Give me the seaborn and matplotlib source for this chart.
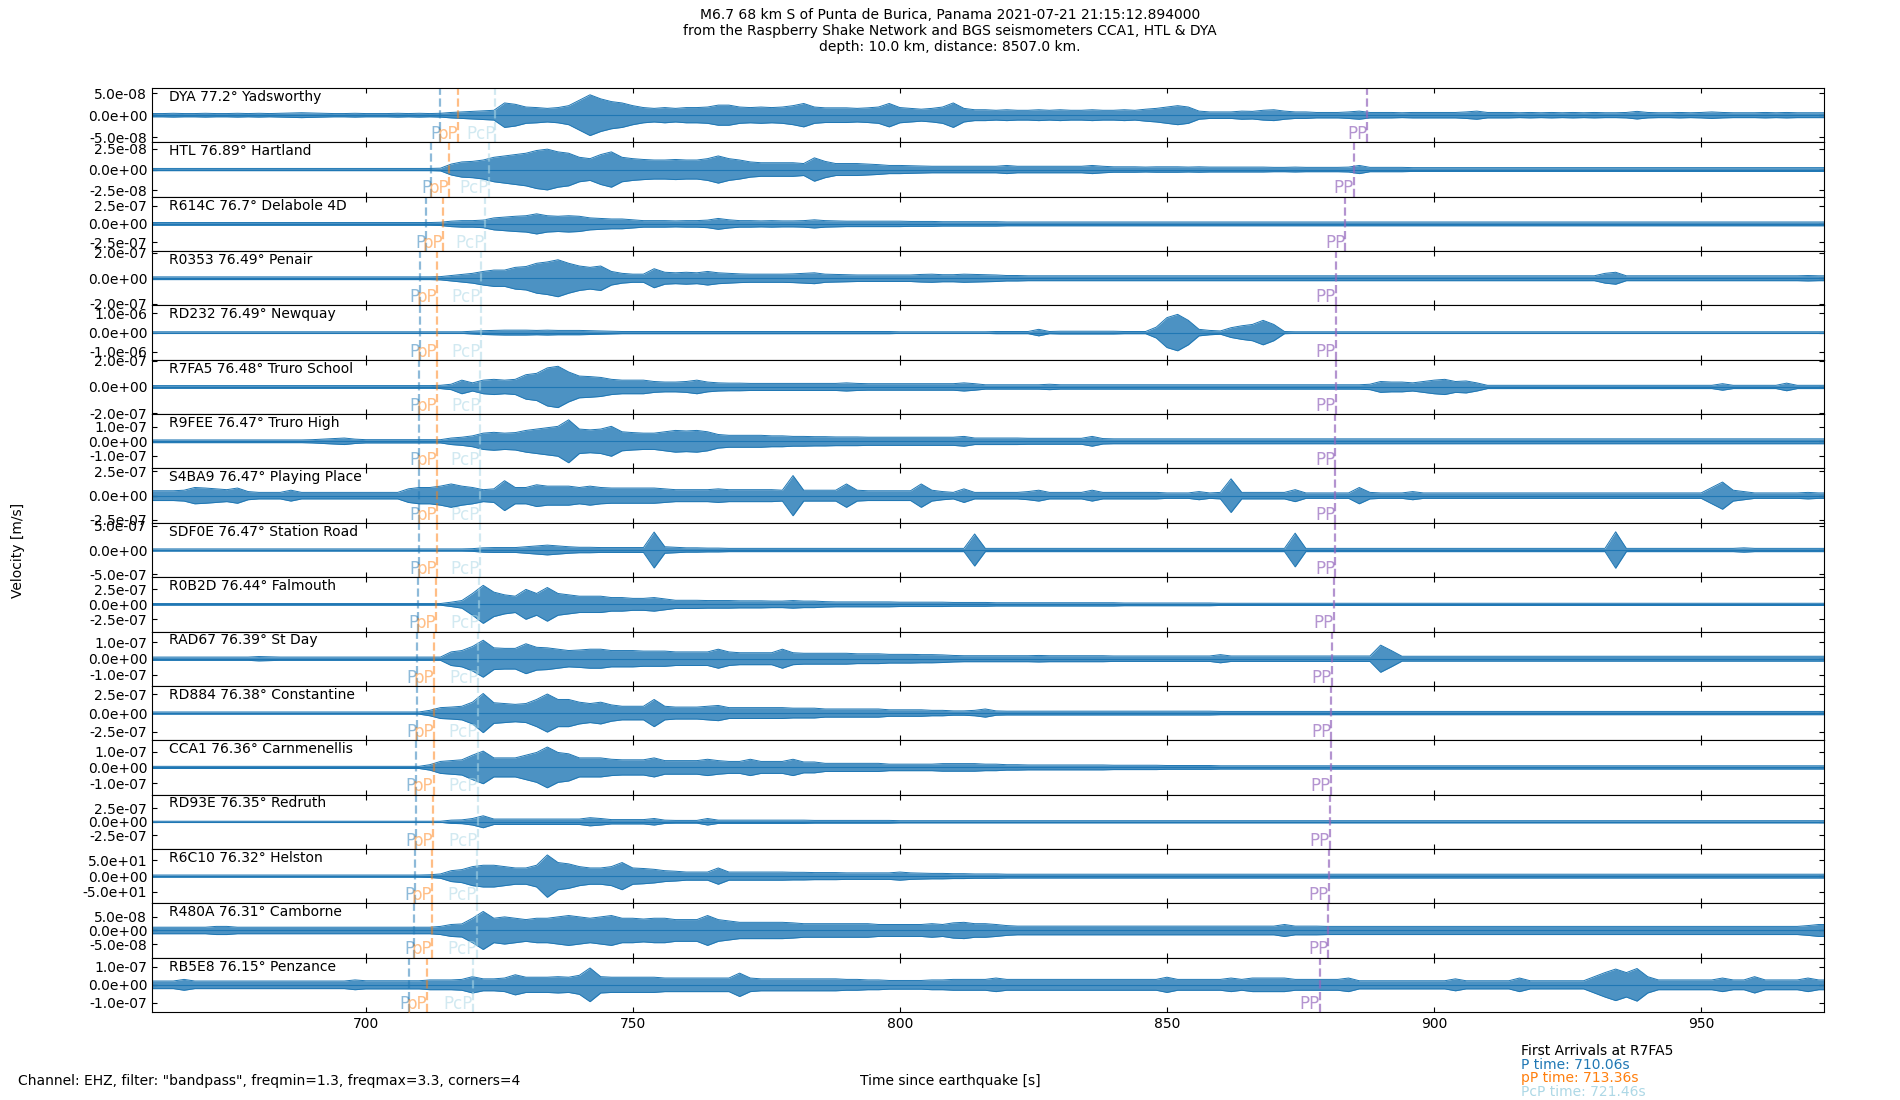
import numpy as np
import pandas as pd
import matplotlib
matplotlib.use("Agg")
import matplotlib.pyplot as plt
import matplotlib.transforms as mtransforms
from matplotlib.ticker import FormatStrFormatter
import seaborn as sns

# ---------------- data ----------------
stations = ["DYA", "HTL", "R614C", "R0353", "RD232", "R7FA5", "R9FEE", "S4BA9", "SDF0E",
            "R0B2D", "RAD67", "RD884", "CCA1", "RD93E", "R6C10", "R480A", "RB5E8"]
distances = [77.2, 76.89, 76.7, 76.49, 76.49, 76.48, 76.47, 76.47, 76.47,
             76.44, 76.39, 76.38, 76.36, 76.35, 76.32, 76.31, 76.15]
places = ["Yadsworthy", "Hartland", "Delabole 4D", "Penair", "Newquay", "Truro School",
          "Truro High", "Playing Place", "Station Road", "Falmouth", "St Day", "Constantine",
          "Carnmenellis", "Redruth", "Helston", "Camborne", "Penzance"]
tick_values = [5e-8, 2.5e-8, 2.5e-7, 2e-7, 1e-6, 2e-7, 1e-7, 2.5e-7, 5e-7,
               2.5e-7, 1e-7, 2.5e-7, 1e-7, 2.5e-7, 50.0, 5e-8, 1e-7]
# half range of each panel's velocity axis [m/s]
ylim_half = [6.2e-8, 3.28e-8, 3.7e-7, 2.12e-7, 1.40e-6, 2.08e-7, 1.85e-7, 2.8e-7, 5.65e-7,
             4.5e-7, 1.67e-7, 3.63e-7, 1.73e-7, 5.1e-7, 86.5, 9.8e-8, 1.5e-7]

# phase arrival times [s since origin]
P_times = [713.95, 712.27, 711.25, 710.11, 710.11, 710.06, 710.01, 710.01, 710.01,
           709.84, 709.57, 709.52, 709.41, 709.36, 709.20, 709.14, 708.15]
pP_times = [717.25, 715.57, 714.55, 713.41, 713.41, 713.36, 713.31, 713.31, 713.31,
            713.14, 712.87, 712.82, 712.71, 712.66, 712.50, 712.44, 711.50]
PcP_times = [724.27, 723.06, 722.32, 721.50, 721.50, 721.46, 721.42, 721.42, 721.42,
             721.30, 721.11, 721.07, 720.99, 720.95, 720.84, 720.80, 720.00]
PP_times = [887.5, 884.96, 883.4, 881.6, 881.6, 881.6, 881.52, 881.52, 881.52,
            881.2, 880.86, 880.78, 880.62, 880.53, 880.29, 880.21, 878.6]

# amplitude envelopes, sampled every 2 s from 660 s to 974 s,
# in percent of each panel's half range (ylim_half)
t_start = 660.0
t_step = 2.0
env_DYA = [6,6,7,6,6,7,6,6,7,6, 7,6,7,8,9,8,7,6,6,7, 6,6,6,7,6,7,6,7,10,12,
           14,16,18,45,40,30,28,25,28,35, 55,75,60,50,45,35,28,25,28,25,
           28,28,30,37,37,30,28,30,28,30, 35,43,30,27,27,27,25,27,30,43,
           28,25,22,25,30,45,25,20,20,18, 20,18,18,20,18,20,18,18,20,18,
           18,20,18,22,25,30,35,30,15,12, 12,12,15,14,18,20,15,12,12,10,
           10,10,12,15,10,10,10,9,10,10, 10,10,10,12,15,10,10,10,9,10,
           9,10,9,10,9,10,9,9,10,14, 10,9,9,10,9,10,12,10,9,9, 9,10,9,10,9,9,9,9]
env_HTL = [4,4,4,4,4,4,4,4,4,4, 4,4,4,4,4,4,4,4,4,4, 4,4,4,4,4,4,4,5,20,28,
           30,35,45,50,55,60,70,75,65,60, 45,40,55,65,45,40,37,35,35,37,
           35,35,40,50,40,35,28,25,25,25, 25,22,43,30,22,22,22,20,18,15,
           15,14,13,12,12,12,12,12,12,12, 15,12,12,12,12,12,12,12,15,12,
           10,10,10,9,10,10,10,9,10,9, 9,9,9,9,9,8,8,9,8,8,
           8,8,9,15,8,8,8,8,7,7, 7,7,7,7,7,7,7,7,7,7,
           7,7,7,7,7,7,7,7,7,7, 7,7,7,7,7,7,7,7,7,7, 7,7,7,7,7,7,7,7]
env_R614C = [5,5,5,5,5,5,5,5,5,5, 5,5,5,5,5,5,5,5,5,5, 5,5,5,5,5,5,5,6,10,12,
             12,14,22,25,28,30,37,30,28,30, 28,22,20,18,18,15,12,12,12,11,
             12,12,14,20,15,12,12,11,12,11, 11,12,15,12,11,10,10,10,10,10,
             10,9,9,9,8,8,8,8,8,8, 7,7,7,7,7,7,7,7,7,7,
             7,7,7,7,7,7,7,7,7,7, 7,7,7,7,7,7,7,7,7,7,
             7,7,7,7,7,7,7,7,7,7, 7,7,7,7,7,7,7,7,7,7,
             7,7,7,7,7,7,7,7,7,7, 7,7,7,7,7,7,7,7,7,7, 7,7,7,7,7,7,7,7]
env_R0353 = [5,5,5,5,5,5,5,5,5,5, 5,5,5,5,5,5,5,5,5,5, 5,5,5,5,5,5,5,6,10,14,
             18,25,30,30,40,43,55,60,68,55, 45,40,45,25,18,15,15,35,22,20,
             22,20,25,20,18,16,15,15,15,15, 16,18,20,15,14,13,12,12,12,12,
             12,12,14,15,13,13,15,14,13,12, 10,10,9,9,9,9,9,9,9,9,
             9,9,9,9,9,9,9,9,9,9, 9,9,9,9,9,9,9,9,9,9,
             9,9,9,9,9,9,9,9,9,9, 9,9,9,9,9,9,9,9,9,9,
             9,9,9,9,9,9,18,22,9,9, 9,9,9,9,9,9,9,9,9,9, 9,9,9,9,9,10,9,9]
env_RD232 = [3,3,3,3,3,3,3,3,3,3, 3,3,3,3,3,3,3,3,3,3, 3,3,3,3,3,3,3,3,3,3,
             5,7,8,9,9,9,8,9,8,8, 8,7,6,5,4,4,4,4,4,4,
             4,4,4,4,4,4,4,4,4,4, 4,4,4,4,4,4,4,4,4,4,
             3,3,3,3,3,3,3,3,3,4, 4,4,4,12,4,5,5,5,5,5,
             5,4,4,4,20,55,67,45,12,8, 6,18,25,30,45,30,4,3,3,3,
             3,3,3,3,3,3,3,3,3,3, 3,3,3,3,3,3,3,3,3,3,
             3,3,3,3,3,3,3,3,3,3, 3,3,3,3,3,3,3,3,3,3, 3,3,3,3,3,3,3,3]
env_R7FA5 = [5,5,5,5,5,5,5,5,5,5, 5,5,5,5,5,5,5,5,5,5, 5,5,5,5,5,5,5,6,10,25,
             15,25,28,25,28,45,50,70,76,55, 40,38,35,28,25,25,25,20,18,18,
             20,25,18,15,14,14,13,13,13,13, 13,13,13,13,13,15,13,12,12,12,
             12,12,12,12,12,12,15,12,8,8, 8,8,8,8,10,8,8,8,8,8,
             8,8,8,8,8,8,8,8,8,8, 8,8,8,8,8,8,8,8,8,8,
             8,8,8,8,10,20,18,18,15,20, 25,28,20,22,15,6,6,6,6,6,
             6,6,6,6,6,6,6,6,6,6, 6,6,6,6,6,6,6,12,6,6, 6,6,6,14,6,6,6,6]
env_R9FEE = [5,5,5,5,5,5,5,5,5,5, 5,5,5,5,5,6,8,10,12,8, 6,6,6,6,6,6,6,6,12,15,
             20,30,33,30,32,40,45,50,55,79, 45,42,45,55,35,32,30,30,35,40,
             38,40,35,25,22,22,22,22,20,20, 18,18,17,17,16,16,16,15,15,15,
             15,15,15,15,15,15,18,12,12,12, 12,12,11,11,11,11,11,11,18,10,
             9,9,9,9,9,9,9,9,9,9, 9,9,9,9,9,9,9,9,9,9,
             9,9,9,9,9,9,9,9,9,9, 9,9,9,9,9,9,9,9,9,9,
             9,9,9,9,9,9,9,9,9,9, 9,9,9,9,9,9,9,9,9,9, 9,9,9,9,9,9,9,9]
env_S4BA9 = [18,18,18,20,30,28,25,22,28,15, 12,12,12,20,12,12,12,12,12,12,
             12,12,12,12,25,30,30,35,43,35, 30,22,25,55,30,30,40,35,35,35,
             30,35,30,28,28,28,28,28,25,22, 22,22,22,25,22,22,22,22,22,20,
             74,20,20,20,20,43,20,18,18,18, 18,18,43,20,15,12,25,12,12,12,
             12,12,15,20,12,12,12,12,20,12, 12,12,12,12,12,10,10,10,15,10,
             12,62,12,12,12,12,12,22,10,10, 10,10,10,30,12,10,10,10,15,10,
             10,10,10,10,10,10,10,10,10,10, 10,10,10,10,10,10,10,10,10,10,
             10,10,10,10,10,10,30,50,20,15, 10,10,10,10,10,12,10,10]
env_SDF0E = [4,4,4,4,4,4,4,4,4,4, 4,4,4,4,4,4,4,4,4,4, 4,4,4,4,4,4,4,4,4,4,
             5,8,9,9,9,12,15,18,15,12, 10,10,9,9,9,9,9,66,12,10,
             8,8,7,7,6,6,6,6,6,6, 6,6,6,6,6,6,6,6,6,6,
             6,6,6,6,6,6,6,59,6,6, 6,6,6,6,6,6,6,6,6,6,
             6,6,6,6,6,6,6,6,6,6, 6,6,6,6,6,6,6,62,6,6,
             6,6,6,6,6,6,6,6,6,6, 6,6,6,6,6,6,6,6,6,6,
             6,6,6,6,6,6,6,67,6,6, 6,6,6,6,6,6,6,6,6,8, 6,6,6,6,6,6,6,6]
env_R0B2D = [3,3,3,3,3,3,3,3,3,3, 3,3,3,3,3,3,3,3,3,3, 3,3,3,3,3,3,3,3,8,14,
             40,70,45,35,30,55,40,62,40,35, 30,30,30,25,25,22,22,25,20,15,
             15,15,14,14,14,13,13,13,12,12, 14,12,12,10,9,9,9,9,9,9,
             8,8,8,8,8,7,7,7,7,6, 6,6,6,6,6,6,6,6,6,6,
             6,5,5,5,5,5,5,5,5,5, 4,4,4,4,4,4,4,4,4,4,
             4,4,4,4,4,4,4,4,4,4, 4,4,4,4,4,4,4,4,4,4,
             4,4,4,4,4,4,4,4,4,4, 4,4,4,4,4,4,4,4,4,4, 4,4,4,4,4,4,4,4]
env_RAD67 = [6,6,6,6,6,6,6,6,6,6, 8,7,6,6,6,6,6,6,6,6, 6,6,6,6,6,6,6,6,25,30,
             45,68,40,38,38,55,42,40,35,30, 32,35,35,30,30,30,28,28,28,25,
             25,25,25,35,25,22,22,22,22,35, 22,20,20,20,20,20,18,18,18,16,
             16,16,15,15,14,12,11,11,11,11, 11,11,11,12,11,11,11,11,11,11,
             10,10,10,10,10,10,10,10,10,10, 15,10,10,10,10,10,10,10,10,10,
             10,10,10,10,10,50,30,9,9,9, 9,9,9,9,9,9,9,9,9,9,
             9,9,9,9,9,9,9,9,9,9, 9,9,9,9,9,9,9,9,9,9, 9,9,9,9,9,9,9,9]
env_RD884 = [4,4,4,4,4,4,4,4,4,4, 4,4,4,4,4,4,4,4,4,4, 4,4,4,4,4,4,10,20,22,25,
             40,72,38,35,32,35,50,70,50,50, 40,35,40,30,25,25,25,50,25,22,
             22,22,25,28,20,20,20,20,20,20, 18,18,18,15,15,15,15,15,15,12,
             12,12,12,10,10,8,8,10,15,8, 7,7,7,7,7,7,7,7,7,7,
             7,7,7,7,7,7,7,7,7,7, 6,6,6,6,6,6,6,6,6,6,
             6,6,6,6,6,6,6,6,6,6, 6,6,6,6,6,6,6,6,6,6,
             6,6,6,6,6,6,6,6,6,6, 6,6,6,6,6,6,6,6,6,6, 6,6,6,6,6,6,6,6]
env_CCA1 = [4,4,4,4,4,4,4,4,4,4, 4,4,4,4,4,4,4,4,4,4, 4,4,4,4,4,4,10,22,25,28,
            45,60,35,35,35,45,55,75,55,50, 35,35,35,30,28,28,28,35,25,25,
            25,25,30,25,22,22,30,22,22,22, 30,20,20,15,15,15,15,15,15,12,
            12,12,12,12,14,14,14,14,12,12, 10,10,9,9,9,9,9,9,9,9,
            8,8,8,8,8,7,7,7,7,7, 6,6,6,6,6,6,6,6,6,6,
            6,6,6,6,6,6,6,6,6,6, 6,6,6,6,6,6,6,6,6,6,
            6,6,6,6,6,6,6,6,6,6, 6,6,6,6,6,6,6,6,6,6, 6,6,6,6,6,6,6,6]
env_RD93E = [2,2,2,2,2,2,2,2,2,2, 2,2,2,2,2,2,2,2,2,2, 2,2,2,2,2,2,2,2,6,7,
             12,22,10,10,10,10,10,10,10,10, 10,15,12,8,8,8,8,12,6,5,
             5,5,12,6,6,6,6,6,6,6, 6,6,5,5,5,5,5,5,5,5,
             4,4,4,4,4,4,4,4,4,4, 4,4,4,4,4,4,4,4,4,4,
             4,4,4,4,4,4,4,4,4,4, 4,4,4,4,4,4,4,4,4,4,
             4,4,4,4,4,4,4,4,4,4, 4,4,4,4,4,4,4,4,4,4,
             4,4,4,4,4,4,4,4,4,4, 4,4,4,4,4,4,4,4,4,4, 4,4,4,4,4,4,4,4]
env_R6C10 = [4,4,4,4,4,4,4,4,4,4, 4,4,4,4,4,4,4,4,4,4, 4,4,4,4,4,4,5,8,20,24,
             35,40,40,35,30,30,40,78,50,45, 35,30,30,35,50,30,28,25,20,18,
             15,15,15,30,15,15,15,15,15,15, 14,14,13,13,13,12,12,12,12,12,
             15,12,11,10,10,9,9,8,8,8, 7,7,7,7,7,7,7,7,7,7,
             7,7,7,7,7,7,7,7,7,7, 7,7,7,7,7,7,7,7,7,7,
             7,7,7,7,7,7,7,7,7,7, 7,7,7,7,7,7,7,7,7,7,
             7,7,7,7,7,7,7,7,7,7, 7,7,7,7,7,7,7,7,7,7, 7,7,7,7,7,7,7,7]
env_R480A = [12,12,12,12,12,12,15,15,12,12, 12,12,12,12,12,12,12,12,12,12,
             12,12,12,12,12,12,12,15,22,24, 45,70,45,50,45,40,45,45,50,55,
             50,45,50,55,45,45,42,45,45,40, 40,40,55,40,35,30,30,30,30,30,
             28,25,25,25,25,25,25,25,22,22, 22,22,22,25,22,28,30,25,25,22,
             18,16,16,16,16,16,16,16,16,16, 16,16,16,16,16,16,16,16,16,16,
             16,16,16,16,16,16,22,16,16,16, 15,15,15,15,15,15,15,15,15,15,
             15,15,15,15,15,15,15,15,15,15, 15,15,15,15,15,15,15,15,15,15,
             15,15,15,15,15,15,15,15,15,15, 15,15,15,15,15,18,22,22]
env_RB5E8 = [14,14,14,20,14,14,14,14,14,14, 14,14,14,14,14,14,14,14,14,18,
             15,15,15,15,15,15,18,18,18,20, 30,22,22,25,37,28,28,28,30,28,
             35,62,30,28,28,28,28,28,25,25, 25,25,25,25,25,43,25,22,22,22,
             22,22,22,22,22,20,20,18,18,16, 16,16,16,18,18,20,20,20,20,25,
             20,20,20,20,20,20,20,20,20,20, 20,20,20,20,20,28,20,20,20,20,
             20,25,20,25,25,25,25,20,20,20, 20,20,25,15,15,15,15,15,15,15,
             15,15,22,15,15,15,15,15,25,15, 15,15,15,15,15,30,45,58,45,60,
             30,18,18,18,18,18,18,25,18,18, 30,18,18,18,18,25,18,18]

envelopes = [env_DYA, env_HTL, env_R614C, env_R0353, env_RD232, env_R7FA5, env_R9FEE,
             env_S4BA9, env_SDF0E, env_R0B2D, env_RAD67, env_RD884, env_CCA1, env_RD93E,
             env_R6C10, env_R480A, env_RB5E8]

x_ticks = [700, 750, 800, 850, 900, 950]
x_range = (660, 973)

title_lines = ["M6.7 68 km S of Punta de Burica, Panama 2021-07-21 21:15:12.894000",
               "from the Raspberry Shake Network and BGS seismometers CCA1, HTL & DYA",
               "depth: 10.0 km, distance: 8507.0 km."]
ref_station = "R7FA5"
ref_P, ref_pP, ref_PcP = 710.06, 713.36, 721.46

# ---------------- plot ----------------
plt.rcParams["font.family"] = ["DejaVu Sans"]
plt.rcParams["font.size"] = 10

n = len(stations)
fig, axes = plt.subplots(n, 1, figsize=(19, 11), dpi=100, sharex=True)
fig.subplots_adjust(left=0.08, right=0.96, top=0.92, bottom=0.08, hspace=0)

phase_styles = [("P", P_times, "C0", 0.5),
                ("pP", pP_times, "C1", 0.5),
                ("PcP", PcP_times, "lightblue", 0.55),
                ("PP", PP_times, "C4", 0.7)]

for i, ax in enumerate(axes):
    env = envelopes[i]
    times = t_start + t_step * np.arange(len(env))
    amp = np.asarray(env, dtype=float) * ylim_half[i] / 100.0
    df = pd.DataFrame({"t": times, "up": amp, "lo": -amp})
    ax.fill_between(df["t"], df["lo"], df["up"], color="C0", alpha=0.8, lw=0)
    sns.lineplot(data=df, x="t", y="up", ax=ax, color="C0", lw=0.7)
    sns.lineplot(data=df, x="t", y="lo", ax=ax, color="C0", lw=0.7)
    ax.axhline(0, color="C0", lw=0.8)
    ax.set_xlabel("")
    ax.set_ylabel("")
    ax.set_xlim(*x_range)
    ax.set_ylim(-ylim_half[i], ylim_half[i])
    ax.set_yticks([tick_values[i], 0, -tick_values[i]])
    ax.yaxis.set_major_formatter(FormatStrFormatter("%.1e"))
    ax.set_xticks(x_ticks)
    ax.tick_params(direction="in", top=True, right=True, labelsize=10)
    ax.text(0.01, 0.965, f"{stations[i]} {distances[i]}\u00b0 {places[i]}",
            transform=ax.transAxes, ha="left", va="top", fontsize=10)
    trans = mtransforms.blended_transform_factory(ax.transData, ax.transAxes)
    for name, tlist, col, alpha in phase_styles:
        ax.axvline(tlist[i], color=col, alpha=alpha, ls="--", lw=1.6)
        ax.text(tlist[i], 0.06, name, transform=trans, ha="right", va="baseline",
                color=col, alpha=alpha, fontsize=12)

for ax in axes[:-1]:
    ax.tick_params(labelbottom=False)

fig.suptitle("\n".join(title_lines), fontsize=10, y=0.993, va="top")
fig.text(0.0096, 0.5, "Velocity [m/s]", rotation=90, ha="center", va="center", fontsize=10)
fig.text(0.0096, 0.0173, 'Channel: EHZ, filter: "bandpass", freqmin=1.3, freqmax=3.3, corners=4',
         ha="left", va="center", fontsize=10)
fig.text(0.5, 0.0173, "Time since earthquake [s]", ha="center", va="center", fontsize=10)
fig.text(0.8004, 0.0449, f"First Arrivals at {ref_station}", ha="left", va="center",
         fontsize=10, color="black")
fig.text(0.8004, 0.0318, f"P time: {ref_P:.2f}s", ha="left", va="center", fontsize=10, color="C0")
fig.text(0.8004, 0.0196, f"pP time: {ref_pP:.2f}s", ha="left", va="center", fontsize=10, color="C1")
fig.text(0.8004, 0.0075, f"PcP time: {ref_PcP:.2f}s", ha="left", va="center", fontsize=10,
         color="lightblue")

fig.savefig("out.png", dpi=100)
